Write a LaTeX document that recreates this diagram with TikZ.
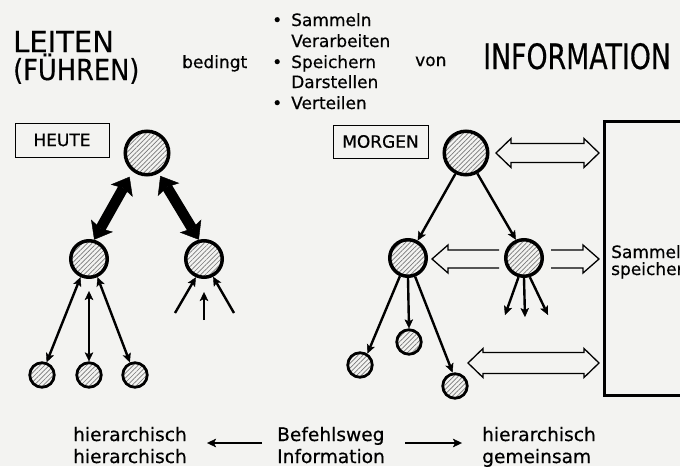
\documentclass[tikz,border=0pt]{standalone}
\usepackage{fontspec}
\setmainfont{DejaVu Sans}[FakeBold=0.5]
\usepackage{graphicx}
\usetikzlibrary{arrows.meta,patterns.meta,calc}
\definecolor{paper}{RGB}{243,243,241}
\definecolor{hatch}{RGB}{120,120,120}
\begin{document}
\begin{tikzpicture}[x=1pt,y=-1pt,
  txt/.style={inner sep=0pt,anchor=base west,font=\fontsize{17}{20}\selectfont},
  btxt/.style={inner sep=0pt,anchor=base west,font=\fontsize{18.6}{22}\selectfont},
  hatched/.style={circle,draw,inner sep=0pt,
    pattern={Lines[angle=45,distance=3.3pt,line width=0.7pt]},pattern color=hatch},
  bigc/.style={hatched,line width=3.5pt,minimum size=43.5pt},
  midc/.style={hatched,line width=3.5pt,minimum size=36.5pt},
  smallc/.style={hatched,line width=2.8pt,minimum size=24.5pt},
  tag/.style={draw,line width=0.8pt,inner sep=0pt,font=\fontsize{17}{20}\selectfont},
  fatarrow/.style={line width=10.5pt,
    {Stealth[length=16pt,width=25pt,inset=3pt,line width=0.4pt]}-{Stealth[length=16pt,width=25pt,inset=3pt,line width=0.4pt]}},
  arr/.style={line width=2.4pt,-{Stealth[length=9pt,width=8.5pt,inset=2pt,line width=0.4pt]}},
  arrboth/.style={line width=2.4pt,{Stealth[length=9pt,width=8.5pt,inset=2pt,line width=0.4pt]}-{Stealth[length=9pt,width=8.5pt,inset=2pt,line width=0.4pt]}},
  hollow/.style={line width=1.3pt,line join=miter},
]
\useasboundingbox (0,0) rectangle (680,466);
\fill[paper] (0,0) rectangle (680,466);

% ---- headline ----
\node[inner sep=0pt,anchor=base west,font=\fontsize{29}{30}\selectfont] (leiten) at (13,52) {LEITEN};
\node[inner sep=0pt,anchor=base west] (fuehren) at (13,80) {\scalebox{0.885}[1]{\fontsize{29}{30}\selectfont (FÜHREN)}};
\node[txt] (bedingt) at (182,68) {bedingt};
\node[txt] (b1) at (272,26) {•};
\node[txt] (l1) at (291,26) {Sammeln};
\node[txt] (l2) at (291,47) {Verarbeiten};
\node[txt] (b3) at (272,68) {•};
\node[txt] (l3) at (291,68) {Speichern};
\node[txt] (l4) at (291,88) {Darstellen};
\node[txt] (b5) at (272,109) {•};
\node[txt] (l5) at (291,109) {Verteilen};
\node[txt] (von) at (415,66) {von};
\node[inner sep=0pt,anchor=base west] (info) at (483,69) {\scalebox{0.765}[1]{\fontsize{35}{35}\selectfont INFORMATION}};

% ---- HEUTE ----
\node[tag,minimum width=94pt,minimum height=34pt] (heute) at (62,140) {HEUTE};
\node[bigc] (T1) at (147,153) {};
\node[midc] (M1) at (89,259) {};
\node[midc] (M2) at (204,259) {};
\node[smallc] (B1) at (42,375) {};
\node[smallc] (B2) at (89,375) {};
\node[smallc] (B3) at (135,375) {};

\draw[fatarrow,shorten <=6pt] (T1.232) -- (M1.75);
\draw[fatarrow,shorten <=3pt] (T1.300) -- (M2.105);

\draw[arrboth] (M1.245) -- (B1.70);
\draw[arrboth] ([yshift=-12pt]M1.south) -- (B2.north);
\draw[arrboth] (M1.295) -- (B3.112);

\coordinate (i1) at (175,313);
\coordinate (i2) at (204,320);
\coordinate (i3) at (234,313);
\draw[arr] (i1) -- (M2.246);
\draw[arr] (i2) -- ([yshift=-13pt]M2.south);
\draw[arr] (i3) -- (M2.297);

% ---- MORGEN ----
\node[tag,minimum width=95pt,minimum height=33pt] (morgen) at (380.5,141.5) {MORGEN};
\node[bigc] (T) at (466,153) {};
\node[midc] (ML) at (408,258) {};
\node[midc] (MR) at (524,258) {};
\node[smallc] (BL) at (360,365) {};
\node[smallc] (BC) at (409,342) {};
\node[smallc] (BR) at (455,386) {};

\draw[arr] (T.243) -- (ML.61);
\draw[arr] (T.299) -- (MR.114);
\draw[arr] (ML.246) -- (BL.57);
\draw[arr] (ML.south) -- (BC.north);
\draw[arr] (ML.291) -- (BR.100);

\coordinate (d1) at (505,315);
\coordinate (d2) at (525,317);
\coordinate (d3) at (548,315);
\draw[arr] (MR.254) -- (d1);
\draw[arr] (MR.south) -- (d2);
\draw[arr] (MR.287) -- (d3);

% ---- store ----
\node[draw,line width=3pt,outer sep=0pt,inner sep=0pt,anchor=north west,
      minimum width=130pt,minimum height=274pt] (box) at (604.5,121) {};
\node[txt] (st1) at (611,258) {Sammel};
\node[txt] (st2) at (611,275) {speicher};

% hollow arrows
\coordinate (h1a) at ($(T.east)+(6.5,0)$);
\coordinate (h1b) at ($(T.east -| box.west)+(-5.5,0)$);
\draw[hollow] (h1a) -- ++(15,-14.5) -- ++(0,5) -- ($(h1b)+(-15,-9.5)$) -- ++(0,-5) -- (h1b)
  -- ++(-15,14.5) -- ++(0,-5) -- ($(h1a)+(15,9.5)$) -- ++(0,5) -- cycle;

\coordinate (h2t) at ($(ML.east)+(4,1)$);
\coordinate (h2e) at ($(MR.west)+(-5,1)$);
\draw[hollow] (h2e) ++(0,-9) -- ($(h2t)+(16,-9)$) -- ++(0,-5) -- (h2t) -- ++(16,14) -- ++(0,-5) -- ($(h2e)+(0,9)$);

\coordinate (h3e) at ($(MR.east)+(7,1)$);
\coordinate (h3t) at ($(MR.east -| box.west)+(-5.5,1)$);
\draw[hollow] (h3e) ++(0,-9) -- ($(h3t)+(-16,-9)$) -- ++(0,-5) -- (h3t) -- ++(-16,14) -- ++(0,-5) -- ($(h3e)+(0,9)$);

\coordinate (h4a) at (468,363);
\coordinate (h4b) at ($(h4a -| box.west)+(-5.5,0)$);
\draw[hollow] (h4a) -- ++(15,-14.5) -- ++(0,4) -- ($(h4b)+(-15,-10.5)$) -- ++(0,-4) -- (h4b)
  -- ++(-15,14.5) -- ++(0,-4) -- ($(h4a)+(15,10.5)$) -- ++(0,4) -- cycle;

% ---- bottom legend ----
\node[btxt] (L1) at (73,441) {hierarchisch};
\node[btxt] (L2) at (73,463) {hierarchisch};
\node[btxt] (C1) at (277,441) {Befehlsweg};
\node[btxt] (C2) at (277,463) {Information};
\node[btxt] (R1) at (482,441) {hierarchisch};
\node[btxt] (R2) at (482,463) {gemeinsam};
\coordinate (al1) at (262,443);
\coordinate (al2) at (207,443);
\coordinate (ar1) at (405,443);
\coordinate (ar2) at (462,443);
\draw[arr] (al1) -- (al2);
\draw[arr] (ar1) -- (ar2);
\end{tikzpicture}
\end{document}
